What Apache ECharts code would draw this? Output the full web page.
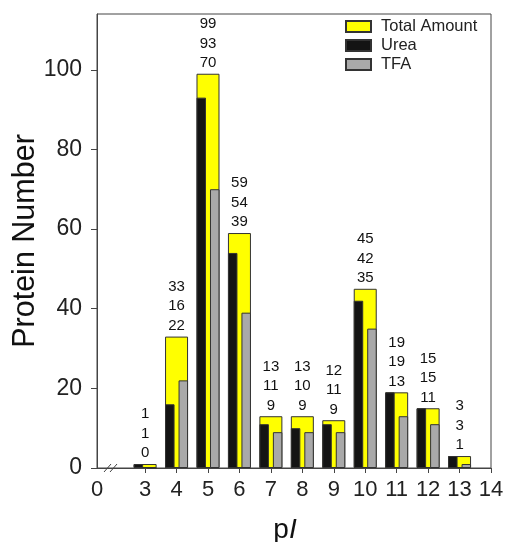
<!DOCTYPE html>
<html>
<head>
<meta charset="utf-8">
<script src="https://cdn.jsdelivr.net/npm/echarts@6/dist/echarts.min.js"></script>
<style>
html,body{margin:0;padding:0;background:#fff;}
#c{width:506px;height:542px;}
</style>
</head>
<body>
<div id="c"></div>
<script>
const pI = [3, 4, 5, 6, 7, 8, 9, 10, 11, 12, 13];
const totalAmount = [1, 33, 99, 59, 13, 13, 12, 45, 19, 15, 3];
const urea = [1, 16, 93, 54, 11, 10, 11, 42, 19, 15, 3];
const tfa = [0, 22, 70, 39, 9, 9, 9, 35, 13, 11, 1];
const xTickValues = [3, 4, 5, 6, 7, 8, 9, 10, 11, 12, 13, 14];
const xMin = 1.47, xMax = 14;
const yTicks = [0, 20, 40, 60, 80, 100];

const FONT = '"Liberation Sans", Arial, Helvetica, sans-serif';
const BORDER = '#333';

const chart = echarts.init(document.getElementById('c'), null, {renderer: 'canvas'});
const xBase = {
  type: 'value', min: xMin, max: xMax
};
chart.setOption({
  animation: false,
  backgroundColor: '#fff',
  textStyle: {fontFamily: FONT},
  grid: {left: 97, right: 15, top: 14, bottom: 74, containLabel: false, outerBoundsMode: 'none',
    show: true, borderColor: '#444', borderWidth: 1, backgroundColor: 'transparent'},
  legend: {
    orient: 'vertical', left: 340, top: 13,
    icon: 'rect',
    itemWidth: 25, itemHeight: 11, itemGap: 2,
    textStyle: {fontFamily: FONT, fontSize: 16.5, color: '#222', padding: [0, 0, 0, 5]},
    data: ['Total Amount', 'Urea', 'TFA']
  },
  xAxis: [
    Object.assign({}, xBase, {
      name: 'p{i|I}', nameLocation: 'middle', nameGap: 48, nameMoveOverlap: false,
      nameTextStyle: {fontFamily: FONT, fontSize: 28, color: '#111', padding: [0, 18, 0, 0],
        rich: {i: {fontFamily: FONT, fontSize: 28, fontStyle: 'italic', color: '#111'}}},
      axisLine: {show: true, onZero: false, lineStyle: {color: '#444', width: 1}},
      axisTick: {show: true, inside: false, length: 5, lineStyle: {color: '#444'}, customValues: xTickValues},
      axisLabel: {show: true, fontFamily: FONT, fontSize: 22, color: '#222', margin: 11,
        customValues: [xMin].concat(xTickValues),
        formatter: v => (v < 2 ? '0' : String(Math.round(v)))},
      splitLine: {show: false}
    }),
    Object.assign({}, xBase, {show: false, splitLine: {show: false}})
  ],
  yAxis: {
    type: 'value', min: 0, max: 114, interval: 20,
    name: 'Protein Number', nameLocation: 'middle', nameGap: 56, nameMoveOverlap: false,
    nameTextStyle: {fontFamily: FONT, fontSize: 30.5, color: '#111'},
    axisLine: {show: true, lineStyle: {color: '#444', width: 1}},
    axisTick: {show: true, inside: false, length: 6, lineStyle: {color: '#444'}, customValues: yTicks},
    axisLabel: {fontFamily: FONT, fontSize: 23, color: '#222', margin: 15, customValues: yTicks},
    splitLine: {show: false}
  },
  series: [
    {
      name: 'Total Amount', type: 'bar', xAxisIndex: 0, barWidth: 23,
      data: pI.map((x, i) => [x, totalAmount[i]]),
      itemStyle: {color: '#ffff00', borderColor: BORDER, borderWidth: 1},
      label: {
        show: true, position: 'top', distance: 1,
        fontFamily: FONT, fontSize: 15, lineHeight: 19.5, color: '#111',
        formatter: p => totalAmount[p.dataIndex] + '\n' + urea[p.dataIndex] + '\n' + tfa[p.dataIndex]
      },
      z: 2
    },
    {
      name: 'Urea', type: 'bar', xAxisIndex: 1, barWidth: 9.5, barGap: '42%',
      data: pI.map((x, i) => [x, urea[i]]),
      itemStyle: {color: '#141414', borderColor: BORDER, borderWidth: 1},
      z: 3
    },
    {
      name: 'TFA', type: 'bar', xAxisIndex: 1, barWidth: 9.5, barGap: '42%',
      data: pI.map((x, i) => [x, tfa[i]]),
      itemStyle: {color: '#a9a9a9', borderColor: BORDER, borderWidth: 1},
      z: 3
    }
  ],
  graphic: [
    {type: 'line', shape: {x1: 104, y1: 472, x2: 111, y2: 464}, style: {stroke: '#444', lineWidth: 1}, z: 10},
    {type: 'line', shape: {x1: 110, y1: 472, x2: 117, y2: 464}, style: {stroke: '#444', lineWidth: 1}, z: 10}
  ]
});
</script>
</body>
</html>
